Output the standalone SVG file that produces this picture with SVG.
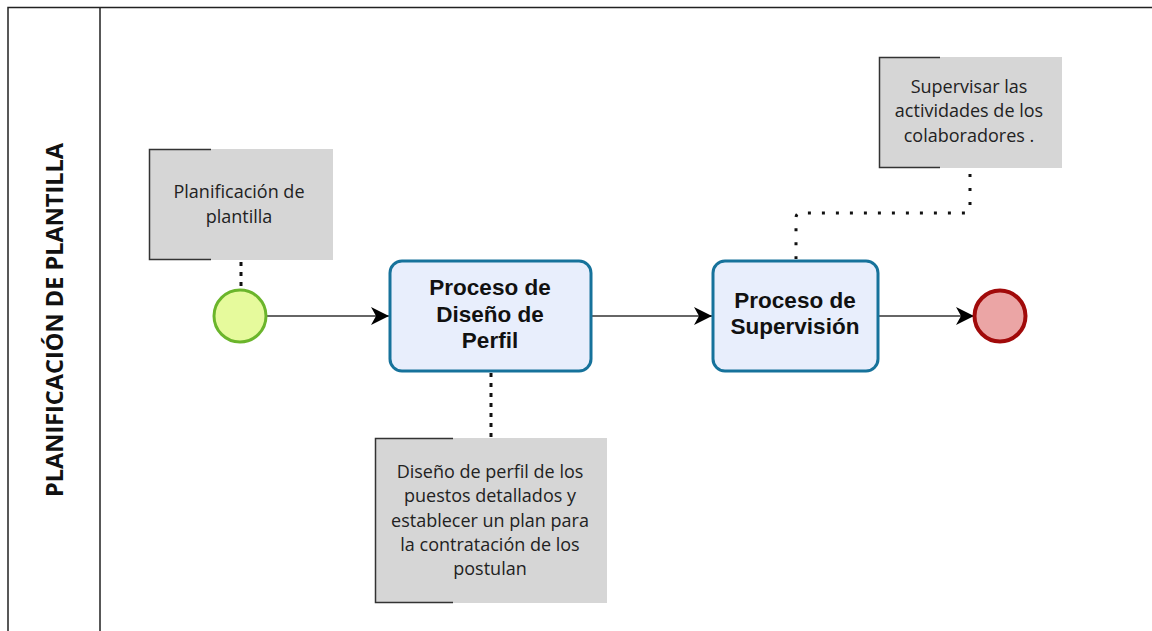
<svg xmlns="http://www.w3.org/2000/svg" width="1152" height="631" viewBox="0 0 1152 631">
<defs>
<marker id="arr" viewBox="0 0 18 18" refX="18" refY="9" markerWidth="18" markerHeight="18" markerUnits="userSpaceOnUse" orient="auto">
<path d="M0,0 L18,9 L0,18 L5,9 Z" fill="#000"/>
</marker>
<style>
.lane{fill:none;stroke:#222;stroke-width:1.5}
.task rect{fill:#e8eefc;stroke:#16729b;stroke-width:3}
.tt{font-family:"Liberation Sans",Arial,sans-serif;font-weight:bold;font-size:22.5px;fill:#111;text-anchor:middle}
.ann rect{fill:#d6d6d6}
.ann path{fill:none;stroke:#333;stroke-width:1.5}
.at{font-family:"Open Sans","DejaVu Sans",sans-serif;font-size:18px;fill:#222;text-anchor:middle}
.flow{fill:none;stroke:#333;stroke-width:1.5;marker-end:url(#arr)}
.assoc{fill:none;stroke:#111;stroke-width:3;stroke-dasharray:4 6}
</style>
</defs>
<rect width="1152" height="631" fill="#fff"/>
<g id="lane">
<path class="lane" d="M8,640 V7.5 H1152 M100,7.5 V640"/>
<text transform="translate(63,320) rotate(-90)" font-family="'Open Sans','DejaVu Sans',sans-serif" font-weight="bold" font-size="23" fill="#111" text-anchor="middle" textLength="354" lengthAdjust="spacingAndGlyphs">PLANIFICACIÓN DE PLANTILLA</text>
</g>
<g id="connectors">
<path class="flow" d="M266,316 H389"/>
<path class="flow" d="M592,316 H712"/>
<path class="flow" d="M879,316 H974"/>
<path class="assoc" d="M241,262 V290"/>
<path class="assoc" d="M491,373 V438"/>
<path class="assoc" style="stroke-dasharray:3 11" d="M970,174 V208 Q970,213 965,213 H801 Q796,213 796,218 V259"/>
</g>
<g id="start">
<circle cx="240" cy="316" r="26" fill="#e6fa9c" stroke="#6bb52b" stroke-width="3"/>
</g>
<g id="task1" class="task">
<rect x="390" y="261" width="201" height="110" rx="12"/>
<text class="tt" x="490" y="295">Proceso de</text>
<text class="tt" x="490" y="321.5">Diseño de</text>
<text class="tt" x="490" y="348">Perfil</text>
</g>
<g id="task2" class="task">
<rect x="713" y="261" width="165" height="110" rx="12"/>
<text class="tt" x="795" y="307.5">Proceso de</text>
<text class="tt" x="795" y="334">Supervisión</text>
</g>
<g id="end">
<circle cx="1000" cy="316" r="25.5" fill="#eba5a5" stroke="#a10a0a" stroke-width="4"/>
</g>
<g id="ann1" class="ann">
<rect x="149" y="149" width="184" height="111"/>
<path d="M211,149.5 H149.5 V259.5 H211"/>
<text class="at" x="239" y="198">Planificación de</text>
<text class="at" x="239" y="223">plantilla</text>
</g>
<g id="ann2" class="ann">
<rect x="375" y="438" width="232" height="165"/>
<path d="M453,438.5 H375.5 V602.5 H453"/>
<text class="at" x="490" y="478">Diseño de perfil de los</text>
<text class="at" x="490" y="502">puestos detallados y</text>
<text class="at" x="490" y="527">establecer un plan para</text>
<text class="at" x="490" y="551">la contratación de los</text>
<text class="at" x="490" y="575">postulan</text>
</g>
<g id="ann3" class="ann">
<rect x="879" y="57" width="183" height="111"/>
<path d="M940,57.5 H879.5 V167.5 H940"/>
<text class="at" x="969" y="93">Supervisar las</text>
<text class="at" x="969" y="117">actividades de los</text>
<text class="at" x="969" y="142">colaboradores .</text>
</g>
</svg>
